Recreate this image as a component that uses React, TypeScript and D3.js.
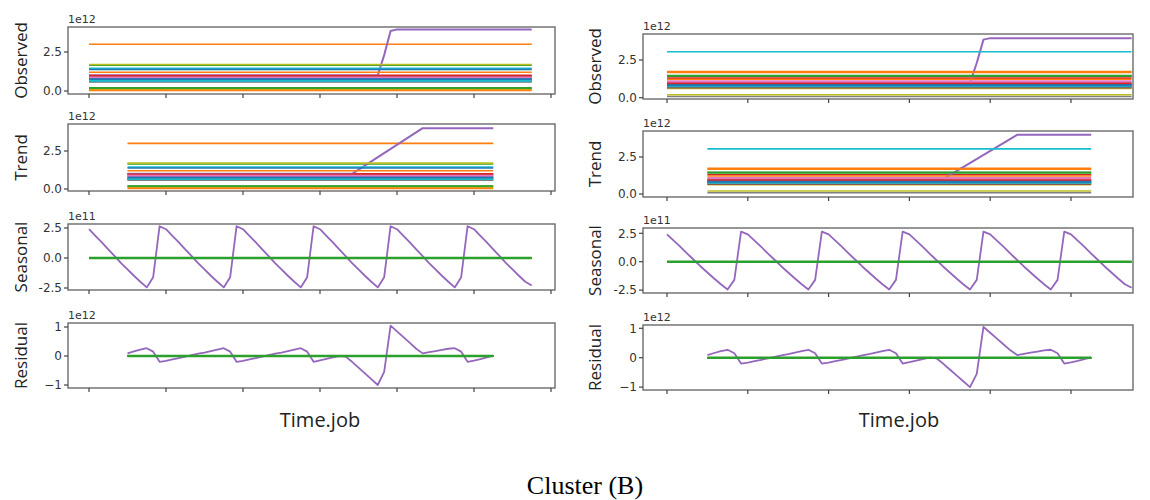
import React, { useEffect, useRef } from 'react';
import * as d3 from 'd3';

// matplotlib default colour cycle
const colorCycle = ['#1f77b4', '#ff7f0e', '#2ca02c', '#d62728', '#9467bd', '#8c564b', '#e377c2', '#7f7f7f', '#bcbd22', '#17becf'];

// constant levels of each series (1e12); null = the stepped series (purple)
const leftLevels = [0.62, 3.0, 1.65, 1.0, null, 0.92, 0.85, 0.72, 1.7, 1.45, 1.38, 1.2, 0.18, 0.97, 0.8, 0.68, 0.88, 0.58, 0.1, 0.65, 0.76, 0.04, 0.2];
const rightLevels = [0.9, 1.73, 1.42, 1.3, null, 0.8, 1.02, 0.7, 0.62, 3.05, 0.86, 1.68, 1.47, 0.95, 0.78, 0.66, 1.1, 0.08, 0.2, 0.74, 0.82, 1.22, 1.45];

// stepped series, [sample, value]
const stepObserved = [[0, 1.0], [45, 1.0], [46, 2.3], [47, 3.85], [48, 3.95], [69, 3.95]];
const stepTrend = [[6, 1.0], [41, 1.0], [52, 4.0], [63, 4.0]];

// seasonal component of the stepped series (1e11), samples 0..69
const seasonal = [
  2.4, 1.85, 1.3, 0.72, 0.15, -0.42, -0.95, -1.48, -1.98, -2.45, -1.6, 2.65,
  2.4, 1.85, 1.3, 0.72, 0.15, -0.42, -0.95, -1.48, -1.98, -2.45, -1.6, 2.65,
  2.4, 1.85, 1.3, 0.72, 0.15, -0.42, -0.95, -1.48, -1.98, -2.45, -1.6, 2.65,
  2.4, 1.85, 1.3, 0.72, 0.15, -0.42, -0.95, -1.48, -1.98, -2.45, -1.6, 2.65,
  2.4, 1.85, 1.3, 0.72, 0.15, -0.42, -0.95, -1.48, -1.98, -2.45, -1.6, 2.65,
  2.4, 1.85, 1.3, 0.72, 0.15, -0.42, -0.95, -1.48, -1.98, -2.3,
];

// residual of the stepped series (1e12), samples 6..63
const residualStart = 6;
const residual = [
  0.09, 0.16, 0.22, 0.27, 0.15, -0.2,
  -0.17, -0.12, -0.07, -0.02, 0.03, 0.08, 0.12, 0.17, 0.22, 0.27, 0.15, -0.2,
  -0.17, -0.12, -0.07, -0.02, 0.03, 0.08, 0.12, 0.17, 0.22, 0.27, 0.15, -0.2,
  -0.15, -0.1, -0.05, 0.0, -0.02, -0.2, -0.4, -0.6, -0.8, -1.0, -0.55, 1.05,
  0.85, 0.65, 0.45, 0.25, 0.09, 0.13, 0.17, 0.21, 0.25, 0.27, 0.15, -0.2,
  -0.16, -0.11, -0.05, 0.01,
];

const xTicks = [0, 12, 24, 36, 48, 60, 72];
const firstSample = 0;
const lastSample = 69;
const trendFirst = 6;
const trendLast = 63;

const obsTicks = [0, 2.5];
const seasTicks = [-2.5, 0, 2.5];
const residTicks = [-1, 0, 1];
const rowLabels = ['Observed', 'Trend', 'Seasonal', 'Residual'];
const offsetLabels = ['1e12', '1e12', '1e11', '1e12'];

const columns = [
  {
    levels: leftLevels,
    x0: 68, x1: 555, tick0: 89, tickStep: 77, labelX: 20, timeX: 320,
    rows: [
      { top: 27, bottom: 94, zeroY: 91, refY: 52, ref: 2.5 },
      { top: 124, bottom: 191, zeroY: 189, refY: 151, ref: 2.5 },
      { top: 224, bottom: 290, zeroY: 258, refY: 228, ref: 2.5 },
      { top: 323, bottom: 388, zeroY: 356, refY: 327, ref: 1 },
    ],
  },
  {
    levels: rightLevels,
    x0: 643, x1: 1133, tick0: 667, tickStep: 80.8, labelX: 594, timeX: 899,
    rows: [
      { top: 34, bottom: 99, zeroY: 97.7, refY: 60, ref: 2.5 },
      { top: 131, bottom: 197, zeroY: 194, refY: 157, ref: 2.5 },
      { top: 228, bottom: 293, zeroY: 261.7, refY: 233.3, ref: 2.5 },
      { top: 325, bottom: 390, zeroY: 357.7, refY: 328.3, ref: 1 },
    ],
  },
];

export default function App() {
  const ref = useRef<SVGSVGElement>(null);

  useEffect(() => {
    const svg = d3.select(ref.current);
    svg.selectAll('*').remove();

    columns.forEach((col) => {
      const x = d3.scaleLinear()
        .domain([0, 12])
        .range([col.tick0, col.tick0 + col.tickStep]);

      col.rows.forEach((row, ri) => {
        const y = d3.scaleLinear()
          .domain([0, row.ref])
          .range([row.zeroY, row.refY]);
        const g = svg.append('g');

        const line = d3.line<number[]>()
          .x((d) => x(d[0]))
          .y((d) => y(d[1]));

        const draw = (pts: number[][], color: string, w: number) => {
          g.append('path')
            .attr('d', line(pts))
            .attr('fill', 'none')
            .attr('stroke', color)
            .attr('stroke-width', w)
            .attr('stroke-linejoin', 'round');
        };

        col.levels.forEach((lv, si) => {
          const color = colorCycle[si % 10];
          const isLast = si === col.levels.length - 1;
          if (ri === 0) {
            if (lv === null) draw(stepObserved, color, 2);
            else draw([[firstSample, lv], [lastSample, lv]], color, 1.6);
          } else if (ri === 1) {
            if (lv === null) draw(stepTrend, color, 2);
            else draw([[trendFirst, lv], [trendLast, lv]], color, 1.6);
          } else if (ri === 2) {
            if (lv === null) draw(seasonal.map((v, i) => [i, v]), color, 1.8);
            else draw([[firstSample, 0], [lastSample, 0]], color, isLast ? 2.6 : 1.6);
          } else {
            if (lv === null) draw(residual.map((v, i) => [i + residualStart, v]), color, 1.8);
            else draw([[trendFirst, 0], [trendLast, 0]], color, isLast ? 2.6 : 1.6);
          }
        });

        // frame
        g.append('rect')
          .attr('x', col.x0)
          .attr('y', row.top)
          .attr('width', col.x1 - col.x0)
          .attr('height', row.bottom - row.top)
          .attr('fill', 'none')
          .attr('stroke', '#6b6b6b')
          .attr('stroke-width', 1.4);

        // x ticks (no labels)
        g.selectAll('.xt')
          .data(xTicks)
          .join('line')
          .attr('x1', (d) => x(d))
          .attr('x2', (d) => x(d))
          .attr('y1', row.bottom)
          .attr('y2', row.bottom + 4)
          .attr('stroke', '#444')
          .attr('stroke-width', 1.2);

        // y ticks
        const yt = ri < 2 ? obsTicks : ri === 2 ? seasTicks : residTicks;
        const fmt = ri === 3 ? (v: number) => (v < 0 ? '\u2212' + Math.abs(v) : String(v))
          : (v: number) => (v < 0 ? '-' + Math.abs(v).toFixed(1) : v.toFixed(1));
        g.selectAll('.yt')
          .data(yt)
          .join('line')
          .attr('x1', col.x0 - 4)
          .attr('x2', col.x0)
          .attr('y1', (d) => y(d))
          .attr('y2', (d) => y(d))
          .attr('stroke', '#444')
          .attr('stroke-width', 1.2);
        g.selectAll('.ytl')
          .data(yt)
          .join('text')
          .attr('x', col.x0 - 6)
          .attr('y', (d) => y(d))
          .attr('dy', '0.35em')
          .attr('text-anchor', 'end')
          .attr('font-family', 'DejaVu Sans')
          .attr('font-size', 12)
          .attr('fill', '#333')
          .text((d) => fmt(d));

        // offset text
        g.append('text')
          .attr('x', col.x0)
          .attr('y', row.top - 4)
          .attr('font-family', 'DejaVu Sans')
          .attr('font-size', 11)
          .attr('fill', '#333')
          .text(offsetLabels[ri]);

        // row label
        const cy = (row.top + row.bottom) / 2;
        g.append('text')
          .attr('transform', `translate(${col.labelX}, ${cy}) rotate(-90)`)
          .attr('text-anchor', 'middle')
          .attr('dominant-baseline', 'central')
          .attr('font-family', 'Open Sans')
          .attr('font-size', 17)
          .attr('fill', '#222')
          .text(rowLabels[ri]);
      });

      svg.append('text')
        .attr('x', col.timeX)
        .attr('y', 427)
        .attr('text-anchor', 'middle')
        .attr('font-family', 'Open Sans')
        .attr('font-size', 20)
        .attr('fill', '#222')
        .text('Time.job');
    });

    svg.append('text')
      .attr('x', 585)
      .attr('y', 494)
      .attr('text-anchor', 'middle')
      .attr('font-family', 'Liberation Serif')
      .attr('font-size', 26)
      .attr('fill', '#000')
      .text('Cluster (B)');
  }, []);

  return (
    <svg ref={ref} width={1150} height={500}
      style={{ position: 'absolute', left: 0, top: 0, background: '#fff' }} />
  );
}
